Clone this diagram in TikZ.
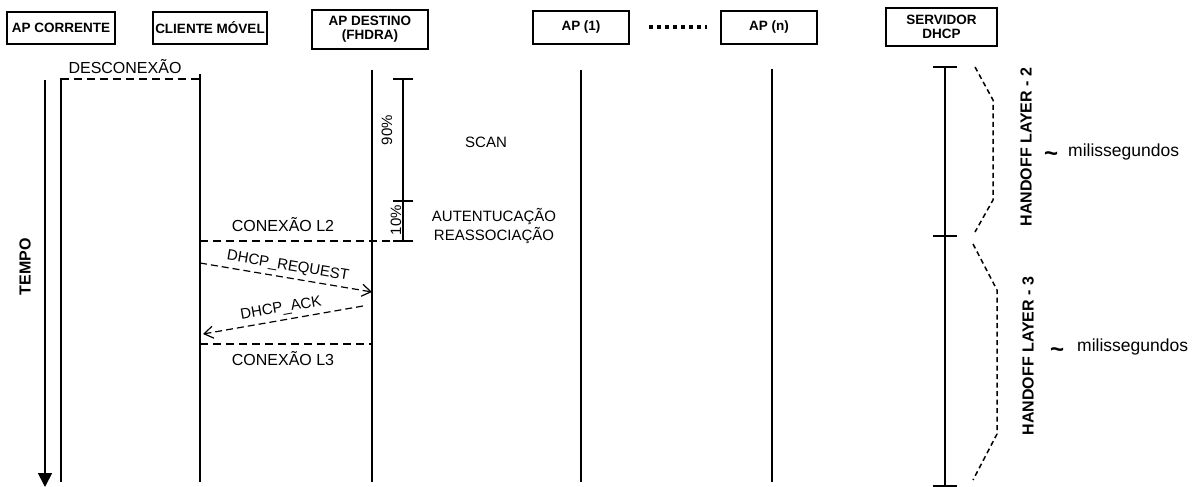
\documentclass[tikz,border=0pt]{standalone}
\usepackage{fontspec}
\setmainfont{Liberation Sans}
\usetikzlibrary{arrows.meta}
\tikzset{
  actor/.style={draw,line width=1.6pt,inner sep=1pt,align=center,font=\fontsize{13.5}{14}\selectfont\bfseries},
  life/.style={line width=1.7pt},
  dline/.style={line width=2.2pt,dash pattern=on 8pt off 5pt},
  msg/.style={line width=1.2pt,dash pattern=on 7pt off 4pt,-{Straight Barb[length=9pt,width=12pt,line width=1.2pt]}},
  brace/.style={line width=1.5pt,dash pattern=on 5pt off 3.5pt},
  lbl/.style={font=\fontsize{15}{19}\selectfont,inner sep=0pt,align=center},
  lblb/.style={font=\fontsize{16}{19}\selectfont,inner sep=0pt,align=center},
  blbl/.style={font=\fontsize{16}{18}\selectfont\bfseries,inner sep=0pt},
  tld/.style={font=\fontsize{24}{24}\selectfont\bfseries,inner sep=0pt},
  msec/.style={font=\fontsize{17.5}{20}\selectfont,inner sep=0pt,anchor=west},
}
\begin{document}
\begin{tikzpicture}[x=1pt,y=-1pt]
\useasboundingbox (0,0) rectangle (1194,487);
% actors
\node[actor,minimum width=108pt,minimum height=32pt] (apc) at (61,28) {AP CORRENTE};
\node[actor,minimum width=114pt,minimum height=32pt] (cli) at (210,28) {CLIENTE MÓVEL};
\node[actor,minimum width=116pt,minimum height=39pt] (apd) at (370,29.5) {AP DESTINO\\(FHDRA)};
\node[actor,minimum width=96pt,minimum height=33pt] (ap1) at (581,27.5) {AP (1)};
\node[actor,minimum width=96pt,minimum height=33pt] (apn) at (769,27.5) {AP (n)};
\node[actor,minimum width=111pt,minimum height=38pt] (srv) at (941.5,27) {SERVIDOR\\DHCP};
\draw[line width=4pt,dash pattern=on 4pt off 4pt,shorten <=19pt,shorten >=13pt] (ap1.east) -- (apn.west);
% lifelines
\coordinate (c1t) at (61,78);   \coordinate (c1b) at (61,482);
\coordinate (c2t) at (200,74);  \coordinate (c2b) at (200,482);
\coordinate (c3t) at (372,70);  \coordinate (c3b) at (372,482);
\coordinate (c4t) at (581,70);  \coordinate (c4b) at (581,482);
\coordinate (c5t) at (772,69);  \coordinate (c5b) at (772,482);
\coordinate (c6t) at (945,67);  \coordinate (c6m) at (945,236); \coordinate (c6b) at (945,486);
\draw[life] (c1t) -- (c1b);
\draw[life] (c2t) -- (c2b);
\draw[life] (c3t) -- (c3b);
\draw[life] (c4t) -- (c4b);
\draw[life] (c5t) -- (c5b);
\draw[life] (c6t) -- (c6b);
\foreach \p in {c6t,c6m,c6b} \draw[life] ([xshift=-12pt]\p) -- ([xshift=12pt]\p);
% time arrow
\coordinate (tt) at (45,80); \coordinate (tb) at (45,487);
\draw[line width=1.7pt,-{Triangle[width=14pt,length=14pt]}] (tt) -- (tb);
\node[blbl,rotate=90] (tempo) at (25,267) {TEMPO};
% desconexao
\coordinate (d1) at (61,79); \coordinate (d2) at (200,79);
\draw[dline] (d1) -- (d2);
\node[lblb] (desc) at (125,67) {DESCONEXÃO};
% scale bar
\coordinate (s1) at (403,79); \coordinate (s2) at (403,201); \coordinate (s3) at (403,241);
\draw[life] (s1) -- (s3);
\foreach \p in {s1,s2,s3} \draw[life] ([xshift=-10pt]\p) -- ([xshift=10pt]\p);
\node[lbl,rotate=90] (p90) at (387,130) {90\%};
\node[lbl,rotate=90] (p10) at (396,220) {10\%};
\node[lbl] (scan) at (486,142) {SCAN};
\node[lbl] (aut) at (494,226.5) {AUTENTUCAÇÃO\\REASSOCIAÇÃO};
% conexao L2
\coordinate (l2a) at (200,241); \coordinate (l2b) at (394,241);
\draw[dline] (l2a) -- (l2b);
\node[lblb] (cl2) at (283,225) {CONEXÃO L2};
% DHCP messages
\coordinate (rq1) at (200,263); \coordinate (rq2) at (372,292);
\draw[msg] (rq1) -- node[lbl,sloped,above=4pt] {DHCP\_REQUEST} (rq2);
\coordinate (ak1) at (363,306); \coordinate (ak2) at (203,334);
\draw[msg] (ak1) -- node[lbl,sloped,above=4pt] {DHCP\_ACK} (ak2);
% conexao L3
\coordinate (l3a) at (200,344); \coordinate (l3b) at (372,344);
\draw[dline] (l3a) -- (l3b);
\node[lblb] (cl3) at (283,359) {CONEXÃO L3};
% braces
\coordinate (b1) at (975,67); \coordinate (b2) at (993,100); \coordinate (b3) at (993,200); \coordinate (b4) at (975,232);
\draw[brace] (b1) -- (b2) -- (b3) -- (b4);
\coordinate (e1) at (973,244); \coordinate (e2) at (997,290); \coordinate (e3) at (997,434); \coordinate (e4) at (973,480);
\draw[brace] (e1) -- (e2) -- (e3) -- (e4);
\node[blbl,rotate=90] (h2) at (1026,147) {HANDOFF LAYER - 2};
\node[blbl,rotate=90] (h3) at (1028,356) {HANDOFF LAYER - 3};
\node[tld] (t2) at (1051,157) {\textasciitilde};
\node[msec] (m2) at (1068,152) {milissegundos};
\node[tld] (t3) at (1057,353) {\textasciitilde};
\node[msec] (m3) at (1077,347) {milissegundos};
\end{tikzpicture}
\end{document}
